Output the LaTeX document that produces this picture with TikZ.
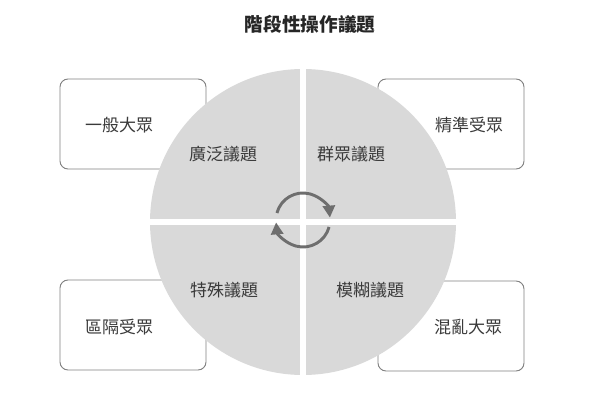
\documentclass[tikz,border=0pt]{standalone}
\usepackage{fontspec}
\newfontfamily\cjk{Noto Sans CJK TC}
\usetikzlibrary{calc,arrows.meta}

\definecolor{diskgray}{HTML}{D9D9D9}
\definecolor{boxgray}{HTML}{808080}
\definecolor{textgray}{HTML}{3A3A3A}
\definecolor{cyclegray}{HTML}{6E6E6E}

\begin{document}
\begin{tikzpicture}[x=0.75pt,y=-0.75pt,
  audbox/.style={draw=boxgray, line width=0.7pt, rounded corners=6pt, fill=white,
    minimum width=109.5pt, minimum height=67.5pt, inner sep=0pt},
  audtext/.style={text=textgray, font=\cjk\fontsize{12.75pt}{14pt}\selectfont, inner sep=0pt},
  issue/.style={text=textgray, font=\cjk\fontsize{12.75pt}{14pt}\selectfont, inner sep=0pt},
  cycle/.style={cyclegray, line width=2.2pt, -{Triangle[length=9pt,width=9pt]}}]
  \useasboundingbox (0,0) rectangle (600,410);

  % Title
  \node[text=black!85, font=\cjk\bfseries\fontsize{14pt}{16pt}\selectfont] (title) at (310,24) {階段性操作議題};

  % Define centres
  \coordinate (O) at (303,222);
  \coordinate (C) at (303,220);

  % Audience boxes (behind the disk)
  \node[audbox] (lt) at (133,124) {};
  \node[audbox] (rt) at (451,124) {};
  \node[audbox] (lb) at (133,325) {};
  \node[audbox] (rb) at (451,326) {};

  % Draw disk and white cross
  \fill[diskgray] (O) circle[radius=114.75pt];
  \draw[white, line width=4.6pt] ($(O)+(0,-155)$) -- ($(O)+(0,155)$);
  \draw[white, line width=5pt] ($(O)+(-155,0)$) -- ($(O)+(155,0)$);

  % Label boxes
  \node[audtext] (general) at ($(lt)+(-14,1)$) {一般大眾};
  \node[audtext] (precise) at ($(rt)+(18,1)$) {精準受眾};
  \node[audtext] (segment) at ($(lb)+(-14,2)$) {區隔受眾};
  \node[audtext] (chaos) at ($(rb)+(17,1)$) {混亂大眾};

  % Label quarters
  \node[issue] (broad) at (223,154) {廣泛議題};
  \node[issue] (group) at (351,154) {群眾議題};
  \node[issue] (special) at (224,290) {特殊議題};
  \node[issue] (vague) at (370,290) {模糊議題};

  % Cycle arrows
  \draw[cycle] ($(C)+(195:27)$) arc[start angle=195, end angle=355, radius=27];
  \draw[cycle] ($(C)+(15:27)$) arc[start angle=15, end angle=175, radius=27];
\end{tikzpicture}
\end{document}
